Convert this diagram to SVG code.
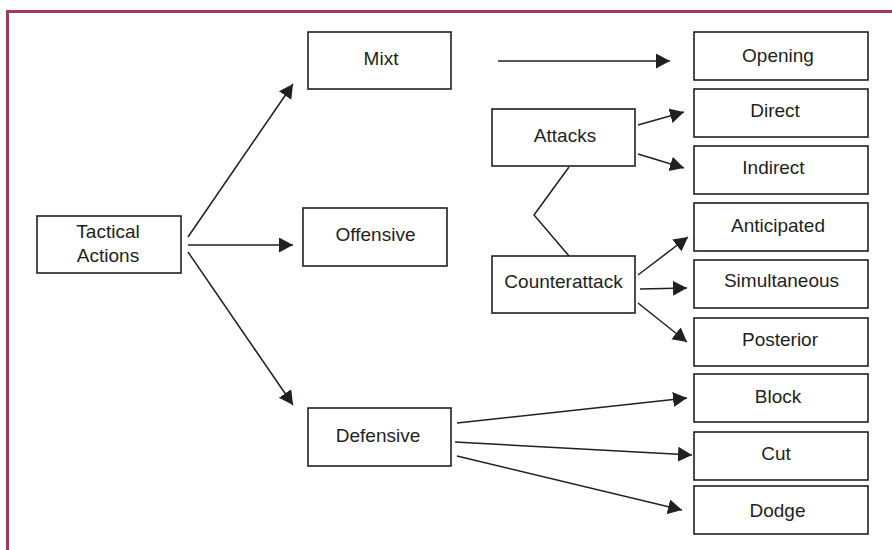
<svg xmlns="http://www.w3.org/2000/svg" width="892" height="550" viewBox="0 0 892 550">
<defs>
<marker id="arr" markerUnits="userSpaceOnUse" markerWidth="16" markerHeight="16" refX="14" refY="7.5" orient="auto">
<path d="M0,0 L14,7.5 L0,15 Z" fill="#231f20"/>
</marker>
<style>
.box{fill:#fff;stroke:#231f20;stroke-width:1.6}
.t{font-family:"Liberation Sans",Arial,sans-serif;font-size:19px;fill:#231f20;text-anchor:middle}
.c{stroke:#231f20;stroke-width:1.5;fill:none}
.a{marker-end:url(#arr)}
</style>
</defs>
<rect x="0" y="0" width="892" height="550" fill="#fff"/>
<path d="M7.5,550 V11.5 H892" fill="none" stroke="#a3385e" stroke-width="3"/>

<g id="connectors">
<line class="c a" x1="188" y1="237" x2="293" y2="84"/>
<line class="c a" x1="188" y1="245" x2="293" y2="245"/>
<line class="c a" x1="188" y1="252" x2="293" y2="405"/>
<line class="c a" x1="498" y1="61" x2="670" y2="61"/>
<line class="c a" x1="638" y1="125" x2="684" y2="112"/>
<line class="c a" x1="638" y1="154" x2="684" y2="168"/>
<polyline class="c" points="569,167 534,215 569,256"/>
<line class="c a" x1="638" y1="275" x2="688" y2="237"/>
<line class="c a" x1="640" y1="289" x2="687" y2="288"/>
<line class="c a" x1="638" y1="303" x2="687" y2="342"/>
<line class="c a" x1="457" y1="423" x2="687" y2="398"/>
<line class="c a" x1="455" y1="442" x2="692" y2="455"/>
<line class="c a" x1="457" y1="456" x2="682" y2="510"/>
</g>

<g id="tactical"><rect class="box" x="37" y="216" width="144" height="57"/><text class="t" x="108" y="238">Tactical</text><text class="t" x="108" y="262">Actions</text></g>
<g id="mixt"><rect class="box" x="308" y="32" width="143" height="57"/><text class="t" x="381" y="65">Mixt</text></g>
<g id="offensive"><rect class="box" x="303" y="208" width="144" height="58"/><text class="t" x="375.5" y="241">Offensive</text></g>
<g id="defensive"><rect class="box" x="308" y="408" width="143" height="58"/><text class="t" x="378" y="442">Defensive</text></g>
<g id="attacks"><rect class="box" x="492" y="109" width="143" height="57"/><text class="t" x="565" y="142">Attacks</text></g>
<g id="counterattack"><rect class="box" x="492" y="256" width="143" height="57"/><text class="t" x="563.5" y="288">Counterattack</text></g>
<g id="opening"><rect class="box" x="694" y="32" width="174" height="48"/><text class="t" x="778" y="62">Opening</text></g>
<g id="direct"><rect class="box" x="694" y="89" width="174" height="48"/><text class="t" x="775" y="117">Direct</text></g>
<g id="indirect"><rect class="box" x="694" y="146" width="174" height="48"/><text class="t" x="773.5" y="174">Indirect</text></g>
<g id="anticipated"><rect class="box" x="694" y="203" width="174" height="48"/><text class="t" x="778" y="232">Anticipated</text></g>
<g id="simultaneous"><rect class="box" x="694" y="260" width="174" height="48"/><text class="t" x="781.5" y="287">Simultaneous</text></g>
<g id="posterior"><rect class="box" x="694" y="318" width="174" height="48"/><text class="t" x="780" y="346">Posterior</text></g>
<g id="block"><rect class="box" x="694" y="374" width="174" height="48"/><text class="t" x="778" y="403">Block</text></g>
<g id="cut"><rect class="box" x="694" y="432" width="174" height="48"/><text class="t" x="776" y="460">Cut</text></g>
<g id="dodge"><rect class="box" x="694" y="486" width="174" height="48"/><text class="t" x="777.5" y="517">Dodge</text></g>
</svg>
